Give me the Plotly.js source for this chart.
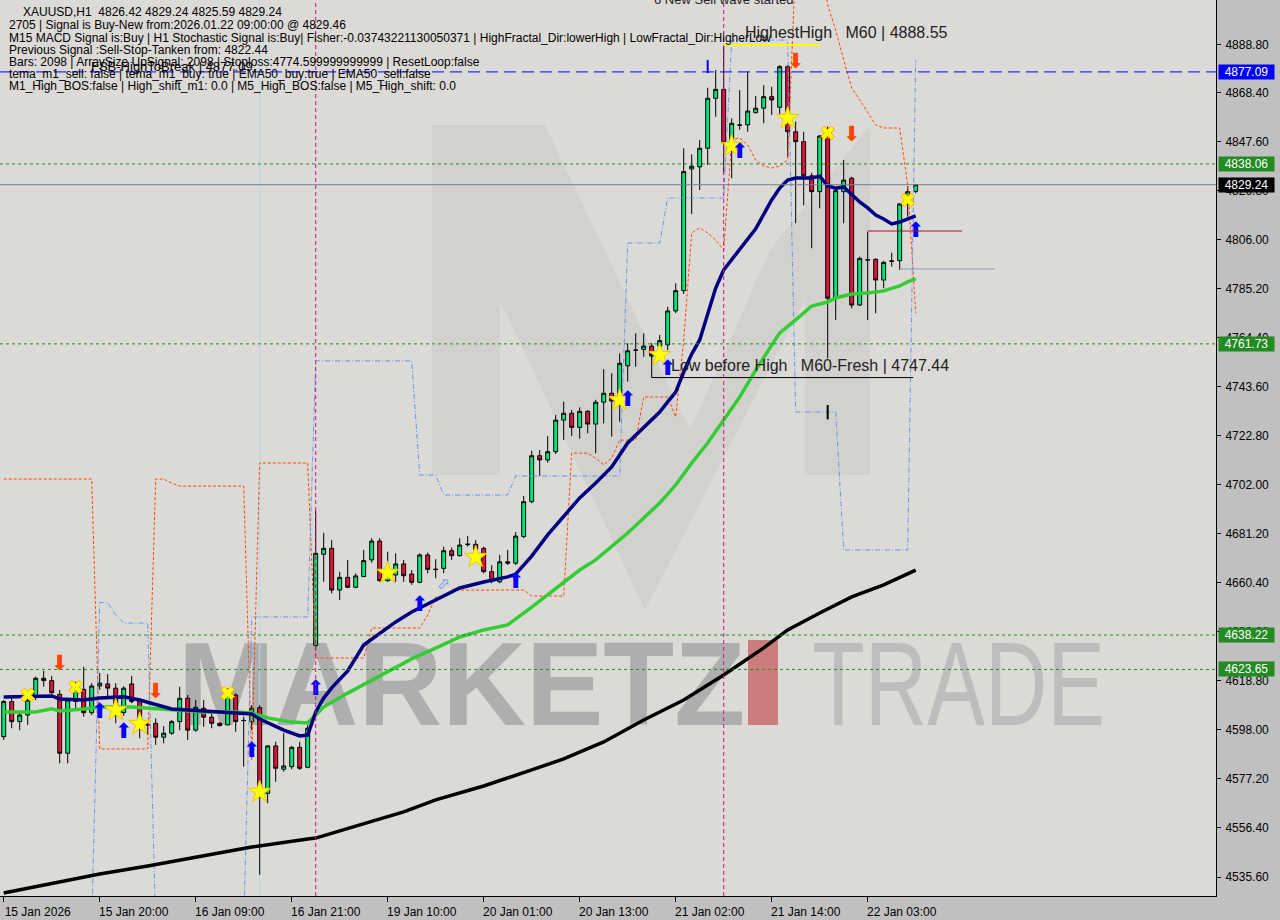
<!DOCTYPE html>
<html>
<head>
<meta charset="utf-8">
<script src="https://cdn.plot.ly/plotly-3.0.1.min.js"></script>
<style>
html,body{margin:0;padding:0;background:#c0c0c0;}
#chart{width:1280px;height:920px;}
</style>
</head>
<body>
<div id="chart"></div>
<script>
// ---------- DATA ----------
const open = [4595.1,4610.0,4601.5,4604.3,4612.1,4619.9,4618.9,4613.1,4588.1,4610.0,
4615.2,4605.3,4616.6,4617.5,4615.7,4605.3,4617.5,4610.3,4600.1,4600.8,
4594.9,4596.6,4601.5,4611.4,4597.9,4607.2,4603.4,4600.8,4600.1,4612.8,
4601.9,4601.5,4607.4,4571.1,4591.2,4581.3,4582.4,4590.6,4582.1,4633.8,
4672.5,4675.0,4657.3,4662.7,4658.5,4663.0,4670.1,4678.1,4661.3,4663.7,
4668.4,4664.1,4660.6,4672.2,4666.2,4666.5,4674.0,4671.9,4676.6,4676.7,
4675.0,4665.1,4660.8,4669.3,4668.7,4680.0,4694.8,4714.3,4712.5,4716.0,
4729.4,4732.3,4726.3,4733.1,4727.7,4737.0,4740.8,4737.5,4752.4,4759.0,
4759.4,4760.8,4760.8,4761.3,4775.7,4784.3,4835.9,4836.8,4844.7,4865.9,
4869.7,4847.1,4854.6,4854.6,4859.8,4861.7,4866.6,4862.1,4879.3,4851.7,
4847.5,4833.0,4826.3,4849.9,4781.1,4826.3,4832.0,4778.2,4797.3,4797.6,
4788.8,4796.7,4797.0,4821.1,4826.42];
const high = [4610.7,4612.1,4605.2,4612.1,4620.6,4623.1,4620.9,4614.9,4611.4,4618.4,
4624.8,4617.8,4622.1,4621.7,4617.8,4616.5,4620.9,4611.4,4601.5,4602.9,
4599.6,4602.2,4616.3,4612.8,4610.7,4610.7,4606.4,4601.2,4615.6,4613.5,
4603.6,4608.5,4608.5,4591.5,4593.0,4596.6,4591.2,4593.0,4600.1,4690.8,
4681.6,4678.5,4665.1,4670.1,4664.4,4674.3,4679.3,4679.3,4673.6,4672.9,
4670.1,4665.8,4672.9,4673.2,4670.4,4675.7,4675.4,4679.3,4680.2,4678.5,
4675.7,4667.9,4672.2,4674.3,4681.9,4697.2,4716.4,4716.7,4722.6,4731.6,
4737.2,4733.7,4734.8,4733.7,4738.0,4751.0,4749.3,4757.7,4762.0,4766.2,
4766.2,4762.1,4765.5,4777.5,4787.4,4844.7,4842.1,4848.2,4870.4,4877.9,
4888.5,4857.4,4869.4,4877.2,4866.9,4871.5,4870.8,4880.0,4880.0,4856.0,
4851.7,4834.3,4850.3,4853.9,4827.0,4839.7,4832.6,4798.7,4809.3,4798.0,
4797.0,4800.4,4821.4,4828.7,4829.24];
const low = [4593.7,4598.7,4597.9,4600.1,4610.7,4616.3,4612.8,4583.8,4583.8,4607.2,
4603.6,4604.3,4614.9,4612.1,4600.8,4604.0,4609.3,4594.4,4595.9,4591.6,
4592.3,4595.9,4597.9,4593.7,4597.2,4599.3,4598.7,4599.4,4600.1,4597.2,
4582.4,4597.9,4536.5,4566.9,4576.0,4580.3,4581.3,4581.0,4581.7,4632.3,
4660.8,4655.9,4653.1,4658.1,4658.1,4663.0,4668.9,4660.8,4660.8,4660.8,
4660.8,4659.5,4660.2,4664.4,4662.3,4664.4,4670.1,4671.5,4675.7,4672.0,
4664.4,4660.2,4660.2,4667.9,4667.9,4679.3,4694.1,4705.7,4711.3,4715.0,
4721.0,4722.6,4721.5,4723.8,4715.3,4728.0,4722.4,4728.7,4745.7,4752.0,
4756.3,4755.7,4758.0,4759.1,4774.8,4782.9,4816.8,4827.0,4837.6,4858.1,
4834.1,4832.0,4852.5,4851.7,4859.5,4855.3,4858.8,4858.1,4841.1,4812.9,
4820.5,4802.3,4819.2,4755.6,4771.9,4812.9,4776.8,4777.8,4771.9,4774.7,
4785.3,4794.5,4793.1,4815.7,4825.59];
const close = [4610.0,4601.5,4604.3,4610.7,4619.9,4618.9,4613.8,4588.1,4610.7,4615.2,
4605.3,4616.6,4617.8,4615.7,4608.5,4615.7,4610.0,4601.9,4600.2,4594.9,
4596.6,4601.5,4611.4,4597.9,4607.6,4603.4,4600.8,4599.8,4612.8,4601.5,
4602.0,4607.2,4573.9,4591.2,4581.7,4582.7,4590.6,4581.7,4598.7,4672.9,
4675.0,4657.3,4662.7,4658.5,4663.3,4669.8,4678.1,4661.3,4663.5,4668.4,
4663.4,4660.6,4672.2,4666.1,4666.0,4674.0,4671.9,4676.4,4676.8,4674.5,
4665.1,4661.3,4669.3,4668.7,4680.2,4694.8,4714.3,4712.5,4716.0,4729.4,
4732.3,4726.3,4733.1,4727.7,4737.0,4740.8,4737.5,4753.5,4758.8,4759.1,
4760.8,4756.6,4763.1,4775.7,4784.3,4834.8,4837.1,4844.7,4865.9,4869.7,
4847.1,4855.3,4854.5,4860.5,4861.7,4866.6,4865.2,4879.3,4851.7,4847.5,
4833.0,4826.3,4849.9,4781.1,4826.7,4831.2,4778.2,4798.0,4797.4,4788.8,
4796.3,4796.9,4821.1,4826.3,4829.24];

// moving averages (bar index, price) read at sampled bars
const ema200Idx = [0,4,12,18,25,31,38,39,44,50,54,60,66,70,75,80,85,90,95,98,102,106,110,114];
const ema200Val = [4528.8,4531.4,4536.9,4540.3,4544.5,4548.3,4551.7,4552.1,4557.2,4563.2,4568.3,4574.2,4581.0,4585.7,4592.9,4602.2,4610.7,4621.3,4632.8,4640.4,4647.6,4654.4,4659.5,4665.8];

const ema50Idx = [0,4,6,7,10,12,16,18,21,25,29,31,33,36,38,39,40,43,47,51,54,57,60,63,66,68,70,72,74,76,78,80,82,84,86,88,90,92,94,96,97,99,101,103,104,106,108,110,111,112,113,114];
const ema50Val = [4605.6,4605.6,4606.9,4606.0,4606.9,4607.7,4607.7,4607.3,4606.4,4605.6,4605.6,4605.2,4603.1,4601.3,4600.9,4604.3,4607.7,4613.6,4620.9,4628.1,4632.7,4637.4,4640.4,4642.5,4650.1,4655.2,4660.3,4665.8,4670.1,4675.6,4681.5,4687.9,4694.2,4701.9,4711.2,4719.7,4729.4,4739.2,4750.6,4761.3,4766.4,4771.9,4777.8,4779.5,4781.2,4782.9,4783.3,4784.2,4785.4,4786.3,4788.0,4789.3];

const ema20Idx = [0,6,7,10,12,15,17,21,25,29,31,32,35,37,38,39,40,41,43,45,47,49,51,54,57,60,63,64,66,68,70,72,74,76,78,80,82,83,84,85,86,87,88,89,90,92,94,96,97,98,99,101,102,103,104,105,106,107,108,109,110,111,112,113,114];
const ema20Val = [4612.0,4612.4,4611.1,4610.7,4611.5,4612.0,4610.7,4606.9,4606.0,4605.2,4604.7,4602.6,4597.9,4595.4,4595.8,4605.6,4611.5,4615.8,4623.0,4634.0,4639.1,4643.8,4648.0,4653.1,4658.2,4660.7,4662.9,4664.1,4671.7,4680.7,4688.7,4696.4,4702.7,4709.5,4719.7,4726.5,4732.8,4737.1,4741.3,4749.8,4757.4,4763.4,4774.8,4785.4,4793.1,4801.6,4810.5,4822.8,4827.8,4831.2,4832.1,4832.1,4832.9,4828.7,4827.8,4828.3,4825.3,4821.9,4819.4,4816.4,4814.7,4812.6,4813.4,4814.7,4816.0];

// fractal channel lines, one value per bar
const upperBand = [4704.4,4704.4,4704.4,4704.4,4704.4,4704.4,4704.4,4704.4,4704.4,4704.4,4704.4,4704.4,
4589.9,4589.9,4589.9,4589.9,4589.9,4589.9,4589.9,
4704.4,4704.4,4702.7,
4701.4,4701.4,4701.4,4701.4,4701.4,4701.4,4701.4,4701.4,4701.4,
4585.2,
4711.2,4711.2,4711.2,4711.2,4711.2,4711.2,4711.2,
4628.5,4628.5,4628.5,4628.5,4628.5,4628.5,4628.5,
4641.2,4641.2,4641.2,4641.2,4641.2,4641.2,4641.2,
4646.7,4654.4,4654.4,
4657.3,4657.3,4657.3,4657.3,4657.3,4657.3,4657.3,4657.3,4657.3,4657.3,
4654.8,4654.8,4654.8,4654.8,4654.8,
4715.4,4715.4,4715.4,4713.3,4710.4,4713.3,
4720.9,4720.9,4720.9,
4739.2,4739.2,4739.2,4739.2,
4730.7,4763.4,
4808.8,4810.9,4808.8,4805.8,4801.6,
4848.2,4849.1,4846.1,4839.7,4837.2,4836.3,4837.2,4839.7,
4925,4925,4925,4925,
4905.5,4894.9,4882.2,4870.3,4865.2,4859.7,4854.6,4853.3,4853.3,4853.3,4829.1,4774.8];
const lowerBand = [4515,4515,4515,4515,4515,4515,4515,4515,4515,4515,4515,4515,
4652.0,4652.0,4646.7,4643.3,4643.3,4643.3,4643.3,
4515,4515,4515,4515,4515,4515,4515,4515,4515,4515,4515,4515,
4645.9,4645.9,4645.9,4645.9,4645.9,4645.9,4645.9,4645.9,
4754.5,4754.5,4754.5,4754.5,4754.5,4754.5,4754.5,4754.5,4754.5,4754.5,4754.5,4754.5,4754.5,
4706.1,4706.1,4706.1,
4697.6,4697.6,4697.6,4697.6,4697.6,4697.6,4697.6,4697.6,4697.6,
4705.7,4705.7,4705.7,4705.7,4705.7,4705.7,4705.7,4705.7,4705.7,4705.7,4705.7,4705.7,4705.7,4705.7,
4804.5,4804.5,4804.5,4804.5,4804.5,
4823.6,4823.6,4823.6,4823.6,4823.6,4823.6,4823.6,4823.6,
4890.6,4890.6,4890.6,4890.6,4890.6,4890.6,4890.6,4890.6,
4732.8,4732.8,4732.8,4732.8,4732.8,4732.8,
4674.3,4674.3,4674.3,4674.3,4674.3,4674.3,4674.3,4674.3,4674.3,
4882.2];

// signal markers
const starIdx = [14,17,32,48,59,77,82,91,98];
const starVal = [4606.4,4600.5,4571.7,4664.6,4671.3,4737.9,4757.0,4845.7,4857.5];
const crossIdx = [3,9,28,103,113];
const crossVal = [4612.8,4616.2,4613.6,4851.2,4822.8];
const upIdx = [12,15,31,39,52,64,78,83,92,114];
const upVal = [4605.2,4596.7,4588.6,4614.9,4650.5,4660.3,4737.5,4750.7,4842.7,4809.2];
const hollowIdx = [55];
const hollowVal = [4659.5];
const downIdx = [7,19,99,106];
const downVal = [4625.5,4613.6,4880.9,4849.9];

// horizontal levels and their axis tags
const levelPrices = [4877.09,4838.06,4829.24,4761.73,4638.22,4623.65];
const levelLabels = ['4877.09','4838.06','4829.24','4761.73','4638.22','4623.65'];
const levelKinds  = ['fsb','support','bid','support','support','support'];

// other objects
const highestHigh = 4888.55;  const hhFrom = 90; const hhTo = 102;
const lowBeforeHigh = 4747.44; const lbhFrom = 81; const lbhTo = 113.7; const lbhTop = 4757.5;
const boxTopPrice = 4809.6; const boxTopFrom = 108; const boxTopTo = 119.8;
const boxBotPrice = 4793.5; const boxBotFrom = 112; const boxBotTo = 123.9;
const markIdx = 103; const markLo = 4729.7; const markHi = 4735.8;
const tickMarkIdx = 88; const tickMarkLo = 4876.6; const tickMarkHi = 4882.1;
const sessionLines = [39, 90];
const cyanLine = 32;

// axis ticks
const xTickIdx = [0,12,24,36,48,60,72,84,96,108];
const xTickLabels = ['15 Jan 2026','15 Jan 20:00','16 Jan 09:00','16 Jan 21:00','19 Jan 10:00','20 Jan 01:00','20 Jan 13:00','21 Jan 02:00','21 Jan 14:00','22 Jan 03:00'];
const yTickLabels = ['4888.80','4868.40','4847.60','4826.80','4806.00','4785.20','4764.40','4743.60','4722.80','4702.00','4681.20','4660.40','4639.60','4618.80','4598.00','4577.20','4556.40','4535.60'];

// texts
const infoLines = [
 'XAUUSD,H1  4826.42 4829.24 4825.59 4829.24',
 '2705 | Signal is Buy-New from:2026.01.22 09:00:00 @ 4829.46',
 'M15 MACD Signal is:Buy | H1 Stochastic Signal is:Buy| Fisher:-0.03743221130050371 | HighFractal_Dir:lowerHigh | LowFractal_Dir:HigherLow',
 'Previous Signal :Sell-Stop-Tanken from: 4822.44',
 'Bars: 2098 | ArraySize UpSignal: 2098 | Stoploss:4774.599999999999 | ResetLoop:false',
 'tema_m1_sell: false | tema_m1_buy: true | EMA50_buy:true | EMA50_sell:false',
 'M1_High_BOS:false | High_shift_m1: 0.0 | M5_High_BOS:false | M5_High_shift: 0.0'
];
const fsbText = 'FSB-HighToBreak | 4877.09';
const hhText = 'HighestHigh   M60 | 4888.55';
const lbhText = 'Low before High   M60-Fresh | 4747.44';
const waveText = '6 New Sell wave started';

// ---------- LAYOUT HELPERS ----------
const PW = 1216, PH = 896;
const px = v => v / PW;
const py = v => 1 - v / PH;
const FONT = 'Liberation Sans, Arial, sans-serif';
const xs = open.map((_, i) => i);

const traces = [];
traces.push({type:'candlestick', x:xs, open:open, high:high, low:low, close:close,
  increasing:{line:{color:'#000000',width:1}, fillcolor:'#00e676'},
  decreasing:{line:{color:'#000000',width:1}, fillcolor:'#dc143c'},
  whiskerwidth:0, hoverinfo:'skip'});
traces.push({type:'scatter', mode:'lines', x:xs, y:upperBand, line:{color:'#ff4500',width:1,dash:'3px,2px'}, hoverinfo:'skip'});
traces.push({type:'scatter', mode:'lines', x:xs, y:lowerBand, line:{color:'#6495ed',width:1,dash:'5px,2px,1px,2px'}, hoverinfo:'skip'});
traces.push({type:'scatter', mode:'lines', x:ema200Idx, y:ema200Val, line:{color:'#000000',width:3.5}, hoverinfo:'skip'});
traces.push({type:'scatter', mode:'lines', x:ema50Idx, y:ema50Val, line:{color:'#32cd32',width:3.5}, hoverinfo:'skip'});
traces.push({type:'scatter', mode:'lines', x:ema20Idx, y:ema20Val, line:{color:'#000080',width:3.5}, hoverinfo:'skip'});
traces.push({type:'scatter', mode:'markers', x:starIdx, y:starVal, marker:{symbol:'star',size:17,color:'#ffff00',line:{color:'#e8c800',width:1}}, hoverinfo:'skip'});
traces.push({type:'scatter', mode:'markers', x:crossIdx, y:crossVal, marker:{symbol:'x',size:12,color:'#ffff00',line:{color:'#ffa500',width:1}}, hoverinfo:'skip'});
traces.push({type:'scatter', mode:'text', x:upIdx, y:upVal, text:upIdx.map(()=>'⬆'), textposition:'middle center', textfont:{family:'DejaVu Sans',size:21,color:'#0000ff'}, hoverinfo:'skip'});
traces.push({type:'scatter', mode:'text', x:hollowIdx, y:hollowVal, text:hollowIdx.map(()=>'⬀'), textposition:'middle center', textfont:{family:'DejaVu Sans',size:16,color:'#6495ed'}, hoverinfo:'skip'});
traces.push({type:'scatter', mode:'text', x:downIdx, y:downVal, text:downIdx.map(()=>'⬇'), textposition:'middle center', textfont:{family:'DejaVu Sans',size:21,color:'#ff4500'}, hoverinfo:'skip'});

// shapes
const shapes = [];
const levelStyle = {
  fsb:{color:'#0000ff', dash:'12px,6px', box:'#0000ff'},
  support:{color:'#228b22', dash:'3px,3px', box:'#228b22'},
  bid:{color:'#708090', dash:'solid', box:'#000000'}
};
levelPrices.forEach((p,k)=>{
  const st = levelStyle[levelKinds[k]];
  shapes.push({type:'line', xref:'paper', x0:0, x1:1, yref:'y', y0:p, y1:p, line:{color:st.color,width:1,dash:st.dash}, layer:'above'});
});
sessionLines.forEach(i=>shapes.push({type:'line', xref:'x', x0:i, x1:i, yref:'paper', y0:0, y1:1, line:{color:'#c71585',width:1,dash:'4px,3px'}, layer:'above'}));
shapes.push({type:'line', xref:'x', x0:cyanLine, x1:cyanLine, yref:'paper', y0:0, y1:1, line:{color:'#a8dce6',width:1}, layer:'below'});
shapes.push({type:'line', xref:'x', x0:hhFrom, x1:hhTo, yref:'y', y0:highestHigh, y1:highestHigh, line:{color:'#ffff00',width:2}, layer:'above'});
shapes.push({type:'line', xref:'x', x0:lbhFrom, x1:lbhFrom, yref:'y', y0:lbhTop, y1:lowBeforeHigh, line:{color:'#000000',width:1}, layer:'above'});
shapes.push({type:'line', xref:'x', x0:lbhFrom, x1:lbhTo, yref:'y', y0:lowBeforeHigh, y1:lowBeforeHigh, line:{color:'#000000',width:1}, layer:'above'});
shapes.push({type:'line', xref:'x', x0:boxTopFrom, x1:boxTopTo, yref:'y', y0:boxTopPrice, y1:boxTopPrice, line:{color:'#a01830',width:1}, layer:'above'});
shapes.push({type:'line', xref:'x', x0:boxBotFrom, x1:boxBotTo, yref:'y', y0:boxBotPrice, y1:boxBotPrice, line:{color:'#8899bb',width:1}, layer:'above'});
shapes.push({type:'line', xref:'x', x0:markIdx, x1:markIdx, yref:'y', y0:markLo, y1:markHi, line:{color:'#000000',width:2}, layer:'above'});
shapes.push({type:'line', xref:'x', x0:tickMarkIdx, x1:tickMarkIdx, yref:'y', y0:tickMarkLo, y1:tickMarkHi, line:{color:'#0000ff',width:2}, layer:'above'});

// annotations
const ann = [];
infoLines.forEach((t,k)=>{
  const ys = [12.3,25.5,38.3,50.5,61.7,73.5,86];
  ann.push({xref:'paper', yref:'paper', x:px(k===0?20.5:7), y:py(ys[k]), xanchor:'left', yanchor:'middle', text:t, showarrow:false, font:{family:FONT,size:12,color:'#000000'}});
});
ann.push({xref:'paper', yref:'paper', x:px(89), y:py(66.5), xanchor:'left', yanchor:'middle', text:fsbText, showarrow:false, font:{family:FONT,size:13,color:'#000000'}});
ann.push({xref:'paper', yref:'paper', x:px(743), y:py(33), xanchor:'left', yanchor:'middle', text:hhText, showarrow:false, font:{family:FONT,size:16,color:'#222222'}});
ann.push({xref:'paper', yref:'paper', x:px(669), y:py(366), xanchor:'left', yanchor:'middle', text:lbhText, showarrow:false, font:{family:FONT,size:16,color:'#222222'}});
ann.push({xref:'paper', yref:'paper', x:px(652), y:py(-1), xanchor:'left', yanchor:'middle', text:waveText, showarrow:false, font:{family:FONT,size:13,color:'#222222'}});
levelPrices.forEach((p,k)=>{
  const st = levelStyle[levelKinds[k]];
  ann.push({xref:'paper', yref:'y', x:1, y:p, xanchor:'left', yanchor:'middle', xshift:2, text:levelLabels[k], showarrow:false,
    bgcolor:st.box, width:55, height:14, borderpad:0, font:{family:FONT,size:12,color:'#ffffff'}});
});

// watermark (drawn below the candles)
const wm = '<svg xmlns="http://www.w3.org/2000/svg" width="1216" height="896" viewBox="0 0 1216 896">' +
 '<path d="M432,125 L545,125 L690,430 L770,250 L870,125 L870,475 L805,475 L805,300 L645,610 L500,300 L500,475 L432,475 Z" fill="#8c8c8c" fill-opacity="0.10"/>' +
 '<text x="178" y="725" font-family="Liberation Sans, Arial, sans-serif" font-weight="bold" font-size="118" fill="#aeaeae" textLength="567" lengthAdjust="spacingAndGlyphs">MARKETZ</text>' +
 '<rect x="748" y="640" width="30" height="85" fill="#cc7c7c"/>' +
 '<text x="812" y="725" font-family="Liberation Sans, Arial, sans-serif" font-size="118" fill="#bdbdbd" textLength="293" lengthAdjust="spacingAndGlyphs">TRADE</text>' +
 '</svg>';

const layout = {
  width:1280, height:920,
  margin:{l:0, r:64, t:0, b:24, pad:0},
  paper_bgcolor:'#c0c0c0',
  plot_bgcolor:'#dcdad6',
  showlegend:false,
  xaxis:{range:[-0.4625,151.54], tickvals:xTickIdx, ticktext:xTickLabels, ticks:'outside', ticklen:5, tickcolor:'#000000',
    showgrid:false, zeroline:false, showline:true, linecolor:'#000000', linewidth:1, mirror:true,
    tickfont:{family:FONT,size:12,color:'#000000'}, ticklabelshift:34, ticklabelstandoff:0,
    rangeslider:{visible:false}, fixedrange:true},
  yaxis:{range:[4527.54,4907.59], side:'right', tickvals:yTickLabels.map(Number), ticktext:yTickLabels, ticks:'outside', ticklen:4, tickcolor:'#000000',
    showgrid:false, zeroline:false, showline:true, linecolor:'#000000', linewidth:1, mirror:true,
    tickfont:{family:FONT,size:12,color:'#000000'}, ticklabelstandoff:2, fixedrange:true},
  shapes:shapes,
  annotations:ann,
  images:[{source:'data:image/svg+xml;charset=utf-8,'+encodeURIComponent(wm), xref:'paper', yref:'paper', x:0, y:1, sizex:1, sizey:1, sizing:'stretch', xanchor:'left', yanchor:'top', layer:'below'}]
};

Plotly.newPlot('chart', traces, layout, {staticPlot:true, displayModeBar:false});
</script>
</body>
</html>
